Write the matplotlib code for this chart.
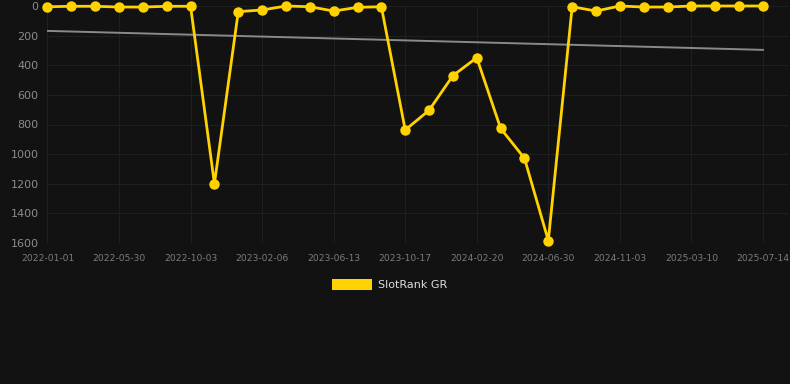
import numpy as np
import matplotlib.pyplot as plt
from matplotlib.patches import Rectangle

# Rank values per sample (lower = better), one every ~6 weeks
ranks = [5, 2, 2, 7, 7, 2, 2, 1200, 38, 27, 0, 5, 34, 9, 5, 837, 704, 470,
         349, 826, 1028, 1584, 5, 34, 0, 7, 7, 0, 0, 0, 0]
tick_labels = ['2022-01-01', '2022-05-30', '2022-10-03', '2023-02-06',
               '2023-06-13', '2023-10-17', '2024-02-20', '2024-06-30',
               '2024-11-03', '2025-03-10', '2025-07-14']
y_ticks = [0, 200, 400, 600, 800, 1000, 1200, 1400, 1600]
series_name = 'SlotRank GR'

bg = '#121212'
gold = '#FFD200'

x = np.arange(len(ranks))
y = np.array(ranks, dtype=float)

# linear trend
k, b = np.polyfit(x, y, 1)
trend = k * x + b

fig = plt.figure(figsize=(7.9, 3.84), dpi=100, facecolor=bg)
ax = fig.add_axes([47 / 790, 141 / 384, 741 / 790, 237 / 384], facecolor=bg)

ax.plot(x, trend, color='#8a8a8a', linewidth=1.4, zorder=2)
ax.plot(x, y, color=gold, linewidth=2.0, marker='o', markersize=6.5,
        clip_on=False, zorder=3)

ax.set_xlim(-0.02, 31.05)
ax.set_ylim(1600, 0)
ax.set_yticks(y_ticks)
ax.set_yticklabels([str(v) for v in y_ticks])
ax.set_xticks(x[::3])
ax.set_xticklabels(tick_labels)

ax.grid(True, color='#1f1f1f', linewidth=0.8)
ax.set_axisbelow(True)
for s in ax.spines.values():
    s.set_visible(False)
ax.tick_params(axis='y', length=0, pad=6, labelsize=8, labelcolor='#8c8c8c')
ax.tick_params(axis='x', length=0, pad=8, labelsize=6.6, labelcolor='#7c7c7c')

# legend drawn as a box and label below the plot
fig.patches.append(Rectangle((332 / 790, 1 - 290 / 384), 40 / 790, 11 / 384,
                             transform=fig.transFigure, facecolor=gold,
                             edgecolor='none'))
fig.text(378 / 790, 1 - 285 / 384, series_name, color='#dddddd', fontsize=8,
         va='center', ha='left')

plt.savefig('out.png', dpi=100, facecolor=bg)
